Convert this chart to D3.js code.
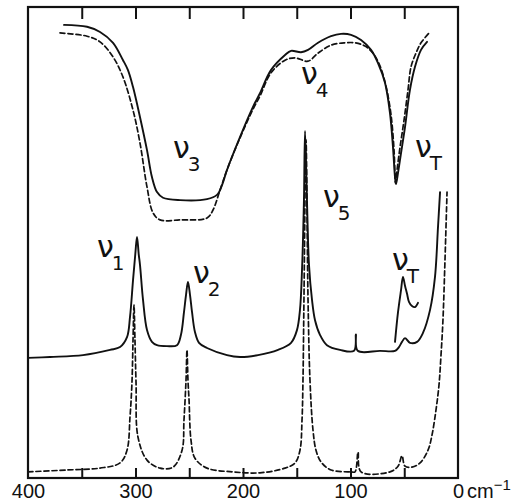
<!DOCTYPE html>
<html><head><meta charset="utf-8">
<script src="https://cdn.jsdelivr.net/npm/d3@7"></script>
<style>body{margin:0;background:#fff}svg{display:block}</style>
</head><body>
<svg id="c" width="517" height="504"></svg>
<script>
// [wavenumber cm^-1, relative signal]
const irSolid = [[366.5,96.2],[345.1,95.8],[333.0,94.7],[320.9,92.4],[311.6,88.7],[307.0,86.6],[302.3,83.0],[295.8,76.6],[289.3,69.6],[284.7,63.9],[280.0,60.7],[274.4,59.5],[258.6,59.0],[233.5,59.2],[224.2,60.1],[219.5,62.2],[214.9,65.4],[202.8,72.4],[190.7,78.8],[184.2,81.7],[174.0,86.6],[160.9,89.8],[155.3,90.7],[146.0,90.4],[139.5,90.9],[130.2,92.4],[118.1,93.8],[108.8,94.3],[99.5,94.1],[90.2,93.0],[80.9,90.9],[74.4,88.1],[67.9,83.9],[63.3,77.5],[60.5,70.3],[58.6,63.9],[57.7,62.4],[55.8,64.8],[53.0,69.0],[49.3,74.5],[44.7,82.4],[40.0,87.3],[34.4,90.9],[28.8,92.6]];
const irDashed = [[370.2,94.5],[345.1,93.8],[333.0,92.6],[320.9,89.4],[311.6,85.1],[302.3,78.1],[295.8,71.1],[289.3,61.8],[283.7,56.3],[277.2,54.8],[258.6,54.8],[233.5,55.2],[227.9,56.9],[221.4,61.1],[214.9,65.4],[202.8,72.2],[190.7,78.3],[184.2,81.1],[174.0,86.0],[160.9,88.7],[151.6,89.2],[139.5,88.5],[130.2,90.2],[118.1,91.9],[105.1,92.4],[95.8,92.4],[86.5,91.7],[79.1,90.2],[72.6,87.5],[67.0,83.2],[62.3,77.1],[59.5,69.6],[58.1,62.6],[56.7,65.4],[54.0,70.1],[50.2,76.0],[46.5,82.4],[43.7,87.3],[39.1,90.2],[34.4,92.4],[26.0,94.7]];
const ramanSolid = [[400,25.5],[379.5,25.7],[348.8,26.1],[323.7,27.2],[314.4,27.8],[307.9,29.9],[305.1,34.2],[302.3,42.0],[300.2,47.5],[298.6,51.2],[297.0,47.5],[295.8,45.2],[293.0,37.8],[289.3,31.4],[284.7,28.9],[280.0,28.2],[270.7,28.0],[261.4,28.2],[257.7,30.4],[254.9,35.2],[253.0,38.9],[251.2,41.6],[249.3,38.9],[247.4,35.2],[244.7,31.0],[240.9,28.7],[233.5,27.6],[214.9,26.1],[202.8,25.7],[186.0,26.1],[167.4,27.2],[155.3,28.7],[149.8,31.4],[147.0,35.7],[145.1,44.2],[143.3,59.0],[142.3,73.7],[140.5,59.0],[138.6,45.2],[135.8,37.8],[133.0,33.5],[128.4,30.4],[121.9,28.2],[109.8,27.2],[96.7,27.0],[95.0,30.5],[93.3,27.0],[72.6,27.0],[58.6,27.0],[54.9,27.8],[52.1,28.9],[49.3,29.7],[44.7,28.7],[38.1,28.9],[32.6,30.8],[26.0,35.7],[21.4,42.7],[18.6,53.3],[16.7,60.7]];
const ramanDashed = [[400,1.3],[363.7,1.7],[333.0,2.1],[314.4,3.2],[307.9,5.9],[305.1,13.0],[303.3,20.2],[302.3,29.3],[301.4,36.7],[300.5,29.3],[299.5,20.2],[297.7,8.7],[289.3,3.8],[277.2,2.1],[265.1,2.3],[256.7,5.9],[254.9,12.3],[253.0,20.8],[252.1,27.2],[251.2,20.8],[250.2,16.6],[248.4,8.1],[244.7,4.2],[233.5,2.1],[209.3,1.3],[184.2,1.1],[160.9,2.1],[151.6,3.2],[147.0,5.9],[145.1,12.3],[144.2,20.8],[143.3,37.8],[141.4,71.8],[139.5,37.8],[137.7,20.8],[134.9,10.2],[132.1,5.9],[127.4,3.4],[118.1,1.7],[99.5,1.3],[95.8,1.3],[93.0,5.5],[90.2,1.3],[63.3,1.3],[55.8,2.5],[52.1,4.7],[49.3,2.5],[42.8,2.3],[35.3,3.2],[27.9,5.9],[24.2,9.1],[20.5,14.4],[17.7,19.7],[15.8,26.1],[14.0,33.5],[12.1,46.3],[10.2,60.7]];
const ramanInset = [[58.6,28.9],[55.8,35.2],[53.0,39.9],[51.2,42.7],[49.3,40.8],[47.4,39.1],[45.6,37.4],[42.8,36.5],[40.0,36.3],[37.2,37.2]];
const tickValues = [0,50,100,150,200,250,300,350,400];
const tickLabels = {400:"400",300:"300",200:"200",100:"100",0:"0"};
const bandLabels = [
  {sym:"ν", sub:"3", wn:265.1, val:67.9},
  {sym:"ν", sub:"4", wn:146.0, val:83.6},
  {sym:"ν", sub:"T", wn:40.0, val:68.1},
  {sym:"ν", sub:"5", wn:125.6, val:57.5},
  {sym:"ν", sub:"1", wn:335.8, val:46.9},
  {sym:"ν", sub:"2", wn:246.5, val:41.4},
  {sym:"ν", sub:"T", wn:61.4, val:44.2}
];

const svg = d3.select("#c");
const L=28, R=458, T=7, B=478;
const x = d3.scaleLinear().domain([400,0]).range([L,R]);
const y = d3.scaleLinear().domain([0,100]).range([B,T]);

const line = d3.line().x(d=>x(d[0])).y(d=>y(d[1])).curve(d3.curveCatmullRom.alpha(0.5));

function draw(data, dashed){
  svg.append("path").attr("d", line(data)).attr("fill","none")
    .attr("stroke","#111").attr("stroke-width", dashed?1.7:1.9)
    .attr("stroke-dasharray", dashed?"5,3":null)
    .attr("stroke-linejoin","round").attr("stroke-linecap","round");
}
draw(irDashed,true);
draw(irSolid,false);
draw(ramanDashed,true);
draw(ramanSolid,false);
draw(ramanInset,false);

// axes
const gb = svg.append("g").attr("transform",`translate(0,${B})`)
  .call(d3.axisBottom(x).tickValues(tickValues).tickSize(-10).tickPadding(6)
    .tickFormat(d=>tickLabels[d]||""));
const gt = svg.append("g").attr("transform",`translate(0,${T})`)
  .call(d3.axisTop(x).tickValues(tickValues.filter(d=>d>0&&d<400)).tickSize(-12).tickFormat(""));
[gb,gt].forEach(g=>{
  g.select(".domain").remove();
  g.selectAll("line").attr("stroke","#111").attr("stroke-width",2);
  g.selectAll("text").attr("font-family","Liberation Sans, Arial, sans-serif").attr("font-size",20).attr("fill","#111");
});
gb.selectAll(".tick").filter(d=>d===0||d===400).select("line").remove();

svg.append("rect").attr("x",L).attr("y",T).attr("width",R-L).attr("height",B-T)
  .attr("fill","none").attr("stroke","#111").attr("stroke-width",2.2);

// unit label
const u = svg.append("text").attr("x",x(0)+9).attr("y",498)
  .attr("font-family","Liberation Sans, Arial, sans-serif").attr("font-size",20).attr("fill","#111");
u.append("tspan").text("cm");
u.append("tspan").attr("dy",-8).attr("font-size",15).text("−1");

// band labels
bandLabels.forEach(b=>{
  const t = svg.append("text").attr("x",x(b.wn)).attr("y",y(b.val))
    .attr("font-family","DejaVu Sans, sans-serif").attr("font-size",30).attr("fill","#111");
  t.append("tspan").text(b.sym);
  t.append("tspan").attr("dy",13).attr("dx",-2).attr("font-size",20).text(b.sub);
});
</script>
</body></html>
